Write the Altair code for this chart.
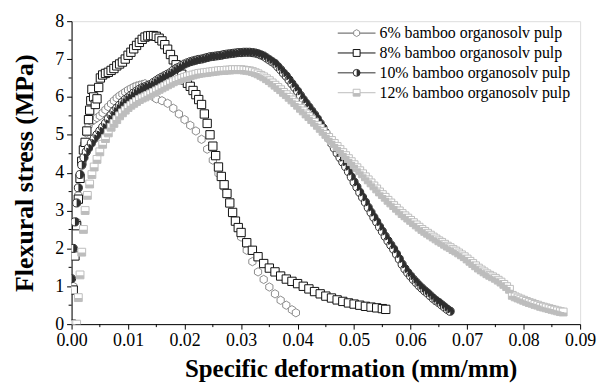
import altair as alt
import pandas as pd

# ---------------- data ----------------
series_names = ["6% bamboo organosolv pulp", "8% bamboo organosolv pulp",
                "10% bamboo organosolv pulp", "12% bamboo organosolv pulp"]

pts6 = [(0, 0), (0.0003, 1.0), (0.0006, 1.9), (0.0009, 2.7), (0.0012, 3.4), (0.0015, 3.9),
        (0.0018, 4.35), (0.0022, 4.75), (0.0026, 5.05), (0.003, 5.25), (0.0035, 5.35),
        (0.004, 5.4), (0.0045, 5.45), (0.005, 5.5), (0.0055, 5.58), (0.006, 5.66),
        (0.0065, 5.74), (0.007, 5.82), (0.0075, 5.9), (0.008, 5.97), (0.0085, 6.03),
        (0.009, 6.08), (0.0095, 6.13), (0.010, 6.18), (0.0105, 6.22), (0.011, 6.26),
        (0.0115, 6.29), (0.012, 6.31), (0.0125, 6.33), (0.013, 6.35), (0.0135, 6.3),
        (0.014, 6.15), (0.0145, 6.0), (0.015, 5.95), (0.016, 5.9), (0.017, 5.83),
        (0.018, 5.7), (0.019, 5.55), (0.020, 5.4), (0.021, 5.25), (0.022, 5.1),
        (0.023, 4.88), (0.024, 4.62), (0.025, 4.33), (0.026, 3.98), (0.027, 3.62),
        (0.028, 3.2), (0.029, 2.72), (0.030, 2.3), (0.031, 1.95), (0.032, 1.65),
        (0.033, 1.38), (0.034, 1.18), (0.035, 0.98), (0.036, 0.8), (0.037, 0.63),
        (0.038, 0.5), (0.039, 0.38), (0.0397, 0.3)]

pts8 = [(0, 0), (0.0003, 0.9), (0.0006, 1.8), (0.0009, 2.6), (0.0012, 3.3), (0.0015, 3.85),
        (0.0018, 4.3), (0.0021, 4.6), (0.0024, 4.8), (0.0027, 5.1), (0.003, 5.4),
        (0.0032, 5.65), (0.0034, 5.9), (0.0036, 6.2), (0.0039, 6.0), (0.0042, 5.8),
        (0.0045, 5.95), (0.0048, 6.25), (0.0051, 6.5), (0.0055, 6.58), (0.006, 6.62),
        (0.0065, 6.65), (0.007, 6.7), (0.0075, 6.75), (0.008, 6.82), (0.0085, 6.87),
        (0.009, 6.92), (0.0095, 7.0), (0.010, 7.1), (0.0105, 7.18), (0.011, 7.27),
        (0.0115, 7.36), (0.012, 7.44), (0.0125, 7.52), (0.013, 7.58), (0.0135, 7.61),
        (0.014, 7.62), (0.0145, 7.62), (0.015, 7.6), (0.0155, 7.55), (0.016, 7.48),
        (0.0165, 7.38), (0.017, 7.26), (0.0175, 7.12), (0.018, 6.98), (0.0185, 6.85),
        (0.019, 6.75), (0.0195, 6.6), (0.020, 6.45), (0.0205, 6.36), (0.021, 6.28),
        (0.0215, 6.17), (0.022, 6.06), (0.0225, 5.93), (0.023, 5.8), (0.0235, 5.55),
        (0.024, 5.3), (0.0245, 5.0), (0.025, 4.7), (0.0255, 4.45), (0.026, 4.15),
        (0.0265, 3.9), (0.027, 3.68), (0.0275, 3.45), (0.028, 3.2), (0.0285, 2.95),
        (0.029, 2.72), (0.0295, 2.55), (0.030, 2.42), (0.031, 2.15), (0.032, 1.95),
        (0.033, 1.78), (0.034, 1.6), (0.035, 1.48), (0.036, 1.38), (0.037, 1.27),
        (0.038, 1.19), (0.039, 1.13), (0.040, 1.07), (0.041, 1.0), (0.042, 0.93),
        (0.043, 0.86), (0.044, 0.8), (0.045, 0.74), (0.046, 0.69), (0.047, 0.64),
        (0.048, 0.6), (0.049, 0.56), (0.050, 0.53), (0.051, 0.5), (0.052, 0.47),
        (0.053, 0.45), (0.054, 0.43), (0.055, 0.41), (0.0556, 0.39)]

pts10 = [(0, 1.2), (0.0003, 2.0), (0.0006, 2.7), (0.0009, 3.2), (0.0012, 3.6), (0.0015, 3.95),
         (0.0018, 4.2), (0.0022, 4.4), (0.0026, 4.55), (0.003, 4.65), (0.0035, 4.78),
         (0.004, 4.9), (0.0045, 5.0), (0.005, 5.1), (0.0055, 5.2), (0.006, 5.3),
         (0.0065, 5.42), (0.007, 5.52), (0.0075, 5.62), (0.008, 5.7), (0.0085, 5.78),
         (0.009, 5.86), (0.0095, 5.93), (0.010, 5.98), (0.0105, 6.04), (0.011, 6.1),
         (0.0115, 6.15), (0.012, 6.2), (0.0125, 6.24), (0.013, 6.27), (0.0135, 6.3),
         (0.014, 6.33), (0.0145, 6.38), (0.015, 6.43), (0.0155, 6.48), (0.016, 6.52),
         (0.0165, 6.56), (0.017, 6.6), (0.0175, 6.64), (0.018, 6.7), (0.0185, 6.74),
         (0.019, 6.78), (0.0195, 6.83), (0.020, 6.87), (0.0205, 6.9), (0.021, 6.93),
         (0.0215, 6.95), (0.022, 6.97), (0.0225, 6.99), (0.023, 7.0), (0.0235, 7.02),
         (0.024, 7.04), (0.0245, 7.06), (0.025, 7.07), (0.0255, 7.08), (0.026, 7.09),
         (0.0265, 7.1), (0.027, 7.12), (0.0275, 7.13), (0.028, 7.14), (0.0285, 7.15),
         (0.029, 7.16), (0.0295, 7.17), (0.030, 7.17), (0.0305, 7.18), (0.031, 7.18),
         (0.0315, 7.18), (0.032, 7.17), (0.0325, 7.16), (0.033, 7.14), (0.0335, 7.11),
         (0.034, 7.08), (0.0345, 7.03), (0.035, 6.98), (0.0355, 6.93), (0.036, 6.88),
         (0.0365, 6.8), (0.037, 6.72), (0.0375, 6.63), (0.038, 6.55), (0.0385, 6.45),
         (0.039, 6.35), (0.0395, 6.25), (0.040, 6.15), (0.0405, 6.04), (0.041, 5.93),
         (0.0415, 5.83), (0.042, 5.73), (0.0425, 5.63), (0.043, 5.53), (0.0435, 5.42),
         (0.044, 5.3), (0.0445, 5.18), (0.045, 5.05), (0.0455, 4.91), (0.046, 4.78),
         (0.0465, 4.65), (0.047, 4.52), (0.0475, 4.4), (0.048, 4.28), (0.0485, 4.16),
         (0.049, 4.03), (0.0495, 3.89), (0.050, 3.75), (0.0505, 3.62), (0.051, 3.48),
         (0.0515, 3.35), (0.052, 3.22), (0.0525, 3.08), (0.053, 2.95), (0.0535, 2.82),
         (0.054, 2.7), (0.0545, 2.57), (0.055, 2.45), (0.0555, 2.32), (0.056, 2.2),
         (0.0565, 2.09), (0.057, 1.98), (0.0575, 1.85), (0.058, 1.72), (0.0585, 1.58),
         (0.059, 1.46), (0.0595, 1.36), (0.060, 1.27), (0.0605, 1.18), (0.061, 1.1),
         (0.0615, 1.02), (0.062, 0.95), (0.0625, 0.88), (0.063, 0.82), (0.0635, 0.75),
         (0.064, 0.68), (0.0645, 0.62), (0.065, 0.57), (0.0655, 0.51), (0.066, 0.45),
         (0.0665, 0.39), (0.067, 0.34)]

pts12 = [(0.0009, 0), (0.0012, 0.7), (0.0015, 1.3), (0.0018, 1.9), (0.0021, 2.5), (0.0024, 3.0),
         (0.0028, 3.4), (0.0032, 3.7), (0.0036, 3.95), (0.004, 4.15), (0.0045, 4.35),
         (0.005, 4.55), (0.0055, 4.75), (0.006, 4.9), (0.0065, 5.05), (0.007, 5.2),
         (0.0075, 5.3), (0.008, 5.4), (0.0085, 5.5), (0.009, 5.58), (0.0095, 5.65),
         (0.010, 5.72), (0.0105, 5.78), (0.011, 5.83), (0.0115, 5.88), (0.012, 5.93),
         (0.0125, 5.97), (0.013, 6.0), (0.0135, 6.04), (0.014, 6.08), (0.0145, 6.12),
         (0.015, 6.16), (0.0155, 6.2), (0.016, 6.24), (0.0165, 6.28), (0.017, 6.32),
         (0.0175, 6.36), (0.018, 6.4), (0.0185, 6.43), (0.019, 6.46), (0.0195, 6.49),
         (0.020, 6.52), (0.0205, 6.54), (0.021, 6.56), (0.0215, 6.58), (0.022, 6.6),
         (0.0225, 6.62), (0.023, 6.63), (0.0235, 6.64), (0.024, 6.65), (0.0245, 6.66),
         (0.025, 6.67), (0.0255, 6.68), (0.026, 6.69), (0.0265, 6.7), (0.027, 6.7),
         (0.0275, 6.71), (0.028, 6.71), (0.0285, 6.72), (0.029, 6.72), (0.0295, 6.72),
         (0.030, 6.72), (0.0305, 6.71), (0.031, 6.7), (0.0315, 6.69), (0.032, 6.67),
         (0.0325, 6.64), (0.033, 6.61), (0.0335, 6.57), (0.034, 6.53), (0.0345, 6.48),
         (0.035, 6.43), (0.0355, 6.37), (0.036, 6.31), (0.0365, 6.25), (0.037, 6.19),
         (0.0375, 6.12), (0.038, 6.06), (0.0385, 5.99), (0.039, 5.92), (0.0395, 5.85),
         (0.040, 5.78), (0.0405, 5.7), (0.041, 5.63), (0.0415, 5.55), (0.042, 5.48),
         (0.0425, 5.4), (0.043, 5.33), (0.0435, 5.25), (0.044, 5.17), (0.0445, 5.09),
         (0.045, 5.01), (0.0455, 4.93), (0.046, 4.85), (0.0465, 4.77), (0.047, 4.69),
         (0.0475, 4.61), (0.048, 4.53), (0.0485, 4.45), (0.049, 4.37), (0.0495, 4.29),
         (0.050, 4.21), (0.0505, 4.13), (0.051, 4.05), (0.0515, 3.97), (0.052, 3.89),
         (0.0525, 3.81), (0.053, 3.73), (0.0535, 3.65), (0.054, 3.57), (0.0545, 3.49),
         (0.055, 3.42), (0.0555, 3.35), (0.056, 3.27), (0.0565, 3.2), (0.057, 3.13),
         (0.0575, 3.06), (0.058, 2.99), (0.0585, 2.92), (0.059, 2.86), (0.0595, 2.8),
         (0.060, 2.74), (0.0605, 2.68), (0.061, 2.62), (0.0615, 2.56), (0.062, 2.5),
         (0.0625, 2.45), (0.063, 2.4), (0.0635, 2.35), (0.064, 2.3), (0.0645, 2.25),
         (0.065, 2.2), (0.0655, 2.16), (0.066, 2.11), (0.0665, 2.06), (0.067, 2.02),
         (0.0675, 1.97), (0.068, 1.93), (0.0685, 1.88), (0.069, 1.83), (0.0695, 1.78),
         (0.070, 1.72), (0.0705, 1.66), (0.071, 1.6), (0.0715, 1.54), (0.072, 1.48),
         (0.0725, 1.43), (0.073, 1.38), (0.0735, 1.33), (0.074, 1.29), (0.0745, 1.25),
         (0.075, 1.21), (0.0755, 1.16), (0.076, 1.11), (0.0765, 1.05), (0.077, 0.99),
         (0.0775, 0.92), (0.078, 0.76), (0.0785, 0.72), (0.079, 0.69), (0.0795, 0.66),
         (0.080, 0.63), (0.0805, 0.6), (0.081, 0.57), (0.0815, 0.55), (0.082, 0.52),
         (0.0825, 0.5), (0.083, 0.47), (0.0835, 0.45), (0.084, 0.43), (0.0845, 0.41),
         (0.085, 0.39), (0.0855, 0.37), (0.086, 0.35), (0.0865, 0.33), (0.087, 0.32)]

x_ticks = [0.00, 0.01, 0.02, 0.03, 0.04, 0.05, 0.06, 0.07, 0.08, 0.09]
x_minor = [0.005, 0.015, 0.025, 0.035, 0.045, 0.055, 0.065, 0.075, 0.085]
y_ticks = [0, 1, 2, 3, 4, 5, 6, 7, 8]
y_minor = [0.5, 1.5, 2.5, 3.5, 4.5, 5.5, 6.5, 7.5]

# ---------------- styling ----------------
FONT = "Liberation Serif"
C6, C8, C10, C12 = "#8c8c8c", "#111111", "#2e2e2e", "#bdbdbd"
HEX = "M0,-1L0.866,-0.5L0.866,0.5L0,1L-0.866,0.5L-0.866,-0.5Z"
RIGHT_HALF = "M0,-1A1,1 0 0,1 0,1Z"
LOWER_HALF = "M-1,0.1L1,0.1L1,1L-1,1Z"
W, H = 512, 305


def frame(pts):
    return pd.DataFrame({"strain": [p[0] for p in pts], "stress": [p[1] for p in pts]})


axis_common = dict(grid=False, tickColor="black", domainColor="black", tickSize=5,
                   tickWidth=1, domainWidth=1, labelFont=FONT, labelFontSize=18,
                   labelColor="black", titleFont=FONT,
                   titleFontWeight="bold", titleColor="black")

X = alt.X("strain:Q", scale=alt.Scale(domain=[0, 0.09], nice=False, zero=False),
          axis=alt.Axis(values=x_ticks, format=".2f", title="Specific deformation (mm/mm)",
                        labelPadding=3, titlePadding=7, titleFontSize=25, titleX=281,
                        labelFlush=False, **axis_common))
Y = alt.Y("stress:Q", scale=alt.Scale(domain=[0, 8], nice=False),
          axis=alt.Axis(values=y_ticks, format="d", title="Flexural stress (MPa)",
                        labelPadding=3, titlePadding=17, titleFontSize=26,
                        labelFlush=False, **axis_common))


def pts_layer(df, shape, size, stroke, fill, sw=1.0):
    return alt.Chart(df).mark_point(shape=shape, size=size, filled=True, fill=fill,
                                    stroke=stroke, strokeWidth=sw, opacity=1,
                                    clip=True).encode(x=X, y=Y)


df6, df8, df10, df12 = frame(pts6), frame(pts8), frame(pts10), frame(pts12)

layers = [
    pts_layer(df6, HEX, 70, C6, "white"),
    pts_layer(df8, "square", 70, C8, "white"),
    pts_layer(df10, "circle", 66, C10, "white"),
    pts_layer(df10, RIGHT_HALF, 66, C10, C10, 0),
    pts_layer(df12, "square", 62, C12, "white"),
    pts_layer(df12, LOWER_HALF, 62, C12, C12, 0),
]

# minor ticks
xm = alt.Chart(pd.DataFrame({"strain": x_minor})).mark_rule(color="black", strokeWidth=1).encode(
    x=X, y=alt.value(H), y2=alt.value(H + 3))
ym = alt.Chart(pd.DataFrame({"stress": y_minor})).mark_rule(color="black", strokeWidth=1).encode(
    y=Y, x=alt.value(-3), x2=alt.value(0))
layers += [xm, ym]

# legend (inside the plot, top right)
leg_styles = [
    (HEX, C6, "white", None, "#555555"),
    ("square", C8, "white", None, C8),
    ("circle", C10, "white", RIGHT_HALF, C10),
    ("square", C12, "white", LOWER_HALF, C12),
]
for i, (name, (shape, stroke, fill, overlay, lcol)) in enumerate(zip(series_names, leg_styles)):
    yy = 12 + 20 * i
    ldf = pd.DataFrame({"label": [name]})
    base = alt.Chart(ldf)
    layers.append(base.mark_rule(color=lcol, strokeWidth=1).encode(
        x=alt.value(268), x2=alt.value(306), y=alt.value(yy)))
    layers.append(base.mark_point(shape=shape, size=48, filled=True, fill=fill, stroke=stroke,
                                  strokeWidth=1, opacity=1).encode(x=alt.value(287), y=alt.value(yy)))
    if overlay:
        layers.append(base.mark_point(shape=overlay, size=48, filled=True, fill=stroke,
                                      strokeWidth=0, opacity=1).encode(x=alt.value(287), y=alt.value(yy)))
    layers.append(base.mark_text(align="left", baseline="middle", font=FONT, fontSize=16,
                                 color="black").encode(x=alt.value(310), y=alt.value(yy), text="label:N"))

chart = alt.layer(*layers).properties(
    width=W, height=H,
    autosize=alt.AutoSizeParams(type="none"),
    padding={"left": 64, "top": 12, "right": 18, "bottom": 60},
).configure_view(stroke="black", strokeWidth=1).configure(background="white")

chart.save("out.html", embed_options={"renderer": "svg", "actions": False})
